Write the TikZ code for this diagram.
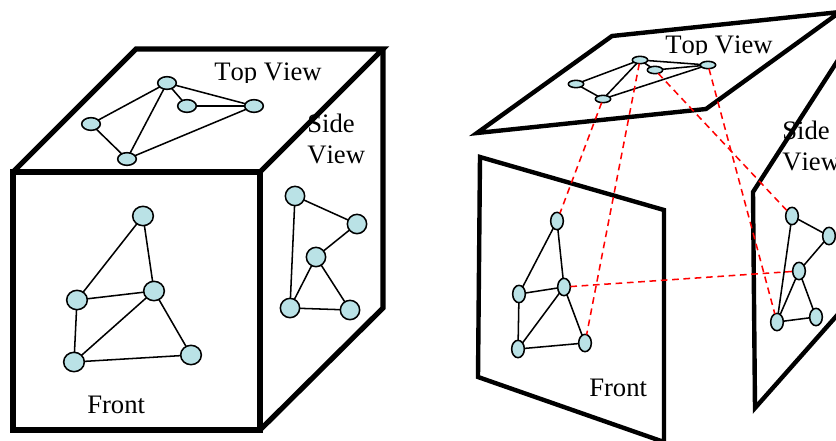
\documentclass[tikz,border=0pt]{standalone}
\usepackage{fontspec}
\setmainfont[Kerning=Off]{Liberation Serif}
\usetikzlibrary{shapes.geometric}
\definecolor{vertexblue}{RGB}{186,226,230}

\begin{document}
\begin{tikzpicture}[
  x=0.75pt, y=-0.75pt,
  panel/.style={line width=3.9pt, miter limit=10},
  plane/.style={line width=3.3pt, miter limit=10},
  label/.style={font=\fontsize{20}{23.25}\selectfont, inner sep=0pt, align=left},
  link/.style={line width=1.15pt},
  project/.style={line width=1.15pt, red, dash pattern=on 5pt off 3.5pt},
  vertex/.style={ellipse, draw, line width=1.15pt, fill=vertexblue, inner sep=0pt, outer sep=0pt},
  cubetop/.style={vertex, minimum width=14pt, minimum height=9.5pt},
  cubeface/.style={vertex, minimum width=15.5pt, minimum height=14.5pt},
  cubeside/.style={vertex, minimum width=14.5pt, minimum height=14.5pt},
  planetop/.style={vertex, minimum width=11.5pt, minimum height=5.5pt},
  planeface/.style={vertex, minimum width=9.5pt, minimum height=13pt}
]
\clip (0,0) rectangle (836,440);

% cube
\draw[panel] (13,172) rectangle (260,430);
\draw[panel] (13,172) -- (136,49) -- (383,49) -- (260,172);
\draw[panel] (383,49) -- (383,308) -- (260,430);

% flat panels
\draw[plane] (477,133) -- (612,36) -- (840,12) -- (706,109) -- cycle;
\draw[plane] (480,157) -- (664,210) -- (664,442) -- (478,377) -- cycle;
\draw[plane] (840,57) -- (753,192) -- (755,408) -- (840,312);

% text
\begin{scope}
\clip (200,50) rectangle (340,82);
\node[label, anchor=base west] (cubetoplabel) at (214,80) {Top View};
\end{scope}
\begin{scope}
\clip (650,20) rectangle (790,54);
\node[label, anchor=base west] (planetoplabel) at (665,53) {Top View};
\end{scope}
\node[label, anchor=base west] (cubesidelabel) at (307,163) {Side\\View};
\node[label, anchor=base west] (planesidelabel) at (782,170) {Side\\View};
\node[label, anchor=base west] (cubefrontlabel) at (87,413) {Front};
\node[label, anchor=base west] (planefrontlabel) at (589,396) {Front};

% graph on the cube, top
\node[cubetop] (ca) at (167,83) {};
\node[cubetop] (cb) at (187,106) {};
\node[cubetop] (cc) at (254,106) {};
\node[cubetop] (cd) at (91,124) {};
\node[cubetop] (ce) at (127,159) {};
\draw[link] (ca) -- (cd);
\draw[link] (ca) -- (ce);
\draw[link] (ca) -- (cb);
\draw[link] (ca) -- (cc);
\draw[link] (cb) -- (cc);
\draw[link] (cc) -- (ce);
\draw[link] (cd) -- (ce);

% graph on the cube, front
\node[cubeface] (fa) at (143,216) {};
\node[cubeface] (fb) at (77,300) {};
\node[cubeface] (fc) at (154,291) {};
\node[cubeface] (fd) at (74,362) {};
\node[cubeface] (fe) at (191,355) {};
\draw[link] (fa) -- (fb);
\draw[link] (fa) -- (fc);
\draw[link] (fb) -- (fc);
\draw[link] (fb) -- (fd);
\draw[link] (fc) -- (fd);
\draw[link] (fc) -- (fe);
\draw[link] (fd) -- (fe);

% graph on the cube, side
\node[cubeside] (sa) at (295,196) {};
\node[cubeside] (sb) at (357,224) {};
\node[cubeside] (sc) at (316,257) {};
\node[cubeside] (sd) at (290,308) {};
\node[cubeside] (se) at (350,310) {};
\draw[link] (sa) -- (sb);
\draw[link] (sa) -- (sd);
\draw[link] (sb) -- (sc);
\draw[link] (sc) -- (sd);
\draw[link] (sc) -- (se);
\draw[link] (sd) -- (se);

% graph on the top panel
\node[planetop] (ta) at (640,60) {};
\node[planetop] (tb) at (655,70) {};
\node[planetop] (tc) at (708,65) {};
\node[planetop] (td) at (576,84) {};
\node[planetop] (te) at (603,99) {};
\draw[link] (ta) -- (td);
\draw[link] (ta) -- (te);
\draw[link] (ta) -- (tb);
\draw[link] (ta) -- (tc);
\draw[link] (tb) -- (tc);
\draw[link] (tc) -- (te);
\draw[link] (td) -- (te);

% graph on the front panel
\node[planeface] (ra) at (557,221) {};
\node[planeface] (rb) at (519,294) {};
\node[planeface] (rc) at (564,287) {};
\node[planeface] (rd) at (518,349) {};
\node[planeface] (re) at (585,343) {};
\draw[link] (ra) -- (rb);
\draw[link] (ra) -- (rc);
\draw[link] (rb) -- (rc);
\draw[link] (rb) -- (rd);
\draw[link] (rc) -- (rd);
\draw[link] (rc) -- (re);
\draw[link] (rd) -- (re);

% graph on the side panel
\node[planeface] (qa) at (792,216) {};
\node[planeface] (qb) at (829,236) {};
\node[planeface] (qc) at (799,271) {};
\node[planeface] (qd) at (777,322) {};
\node[planeface] (qe) at (816,317) {};
\draw[link] (qa) -- (qb);
\draw[link] (qa) -- (qd);
\draw[link] (qb) -- (qc);
\draw[link] (qc) -- (qd);
\draw[link] (qc) -- (qe);
\draw[link] (qd) -- (qe);

% projections
\draw[project] (te) -- (ra);
\draw[project] (ta) -- (re);
\draw[project] (tb) -- (qa);
\draw[project] (tc) -- (qd);
\draw[project] (rc) -- (qc);
\end{tikzpicture}
\end{document}
